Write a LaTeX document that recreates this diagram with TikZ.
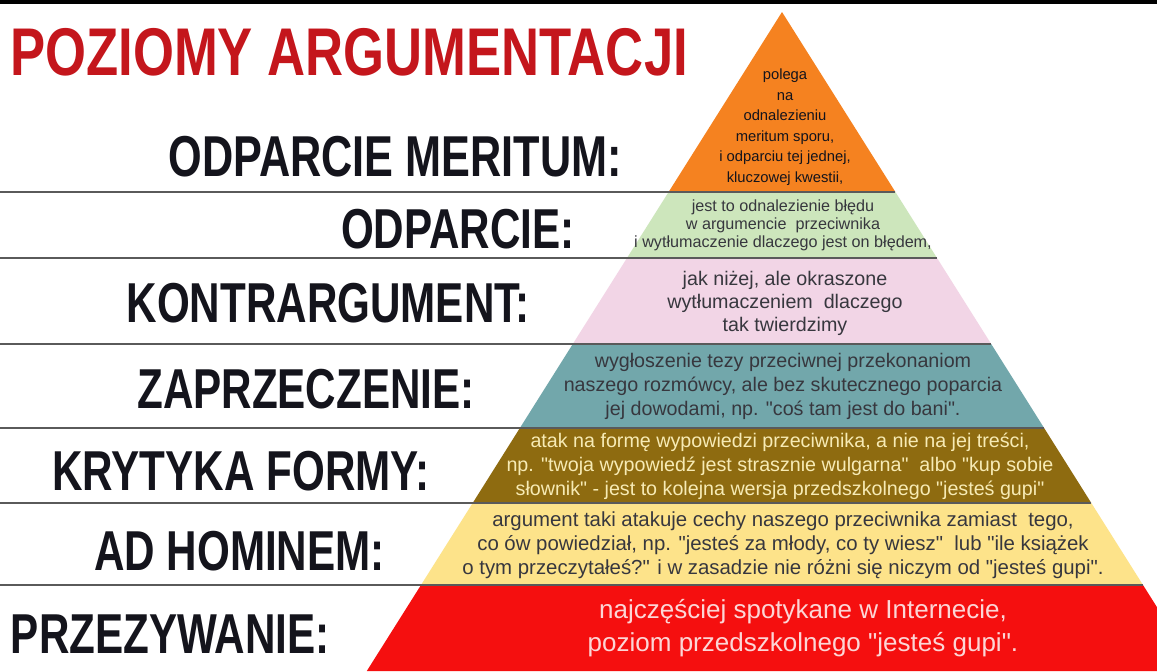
\documentclass[tikz,border=0pt]{standalone}
\usepackage{fontspec}
\setmainfont{Liberation Sans}
\newfontfamily\stencilfont[FakeStretch=0.75]{Liberation Sans}
\newfontfamily\titlefont[FakeStretch=0.78]{Liberation Sans}
\usepackage{xcolor}
\usepackage{tikz}

\definecolor{merit}{HTML}{F58220}
\definecolor{odpar}{HTML}{CDE6BC}
\definecolor{kontr}{HTML}{F2D5E6}
\definecolor{zaprz}{HTML}{72A7AB}
\definecolor{kryt}{HTML}{8E6B10}
\definecolor{adhom}{HTML}{FDE38A}
\definecolor{przez}{HTML}{F50F0F}
\definecolor{titlered}{HTML}{C4161C}
\definecolor{labink}{HTML}{14141C}
\definecolor{sepgray}{HTML}{5A5A5A}
\definecolor{cream}{HTML}{F7EBB5}
\definecolor{pinkish}{HTML}{FCD6D6}

\newcommand{\qt}{\textquotedbl}

\begin{document}
\begin{tikzpicture}[
    x=0.025cm, y=-0.025cm,
    every node/.style={inner sep=0pt},
    layer/.style={fill=#1},
    sep/.style={draw=sepgray, line width=1.6pt},
    lab/.style={anchor=base east, text=labink, font=\stencilfont\bfseries\fontsize{40}{40}\selectfont},
    txt/.style={align=center, text=#1}
]
\useasboundingbox (0,0) rectangle (1157,671);
\clip (0,0) rectangle (1157,671);
\fill[white] (0,0) rectangle (1157,671);
\fill[black] (0,0) rectangle (1157,4);

% pyramid corners
\coordinate (top) at (782,12);
\coordinate (L1) at (668.6,192); \coordinate (R1) at (895.4,192);
\coordinate (L2) at (627,258);   \coordinate (R2) at (937,258);
\coordinate (L3) at (572.8,344); \coordinate (R3) at (991.2,344);
\coordinate (L4) at (519.9,428); \coordinate (R4) at (1044.1,428);
\coordinate (L5) at (472.7,503); \coordinate (R5) at (1091.3,503);
\coordinate (L6) at (421,585);   \coordinate (R6) at (1143,585);
\coordinate (L7) at (366.8,671); \coordinate (R7) at (1197.2,671);

\fill[layer=merit] (top) -- (L1) -- (R1) -- cycle;
\fill[layer=odpar] (L1) -- (L2) -- (R2) -- (R1) -- cycle;
\fill[layer=kontr] (L2) -- (L3) -- (R3) -- (R2) -- cycle;
\fill[layer=zaprz] (L3) -- (L4) -- (R4) -- (R3) -- cycle;
\fill[layer=kryt]  (L4) -- (L5) -- (R5) -- (R4) -- cycle;
\fill[layer=adhom] (L5) -- (L6) -- (R6) -- (R5) -- cycle;
\fill[layer=przez] (L6) -- (L7) -- (R7) -- (R6) -- cycle;

% separators
\coordinate (s1) at (0,192);
\coordinate (s2) at (0,258);
\coordinate (s3) at (0,344);
\coordinate (s4) at (0,428);
\coordinate (s5) at (0,503);
\coordinate (s6) at (0,585);
\draw[sep] (s1) -- (R1);
\draw[sep] (s2) -- (R2);
\draw[sep] (s3) -- (R3);
\draw[sep] (s4) -- (R4);
\draw[sep] (s5) -- (R5);
\draw[sep] (s6) -- (R6);

% title and labels
\node[anchor=base west, text=titlered, font=\titlefont\bfseries\fontsize{48}{48}\selectfont] (title) at (10,75) {POZIOMY ARGUMENTACJI};
\node[lab, font=\stencilfont\bfseries\fontsize{41}{41}\selectfont] (lmer) at (622,176) {ODPARCIE MERITUM:};
\node[lab] (lodp) at (575,248) {ODPARCIE:};
\node[lab] (lkontr) at (530,322) {KONTRARGUMENT:};
\node[lab] (lzaprz) at (475,408) {ZAPRZECZENIE:};
\node[lab] (lkryt) at (430,490) {KRYTYKA FORMY:};
\node[lab] (ladhom) at (385,570) {AD HOMINEM:};
\node[lab] (lprzez) at (330,653) {PRZEZYWANIE:};

% descriptions
\node[txt=labink, font=\fontsize{10.5}{14.6}\selectfont] (mer) at (785,127)
  {polega\\na\\odnalezieniu\\meritum sporu,\\i odparciu tej jednej,\\kluczowej kwestii,};
\node[txt=labink!85, font=\fontsize{11.5}{12.8}\selectfont] (odp) at (783,225)
  {jest to odnalezienie błędu\\w argumencie~ przeciwnika\\i wytłumaczenie dlaczego jest on błędem,};
\node[txt=labink!85, font=\fontsize{14}{16.4}\selectfont] (kontr) at (785,303)
  {jak niżej, ale okraszone\\wytłumaczeniem~ dlaczego\\tak twierdzimy};
\node[txt=labink!85, font=\fontsize{14}{17}\selectfont] (zaprz) at (783,386)
  {wygłoszenie tezy przeciwnej przekonaniom\\naszego rozmówcy, ale bez skutecznego poparcia\\jej dowodami, np. \qt coś tam jest do bani\qt.};
\node[txt=cream, font=\fontsize{14}{17}\selectfont] (kryt) at (780,466)
  {atak na formę wypowiedzi przeciwnika, a nie na jej treści,\\np. \qt twoja wypowiedź jest strasznie wulgarna\qt~ albo \qt kup sobie\\słownik\qt{} - jest to kolejna wersja przedszkolnego \qt jesteś gupi\qt};
\node[txt=labink!85, font=\fontsize{14.5}{17}\selectfont] (adhom) at (783,545)
  {argument taki atakuje cechy naszego przeciwnika zamiast~ tego,\\co ów powiedział, np. \qt jesteś za młody, co ty wiesz\qt~ lub \qt ile książek\\o tym przeczytałeś?\qt{} i w zasadzie nie różni się niczym od \qt jesteś gupi\qt.};
\node[txt=pinkish, font=\fontsize{18.5}{24}\selectfont] (przez) at (803,628)
  {najczęściej spotykane w Internecie,\\poziom przedszkolnego \qt jesteś gupi\qt.};
\end{tikzpicture}
\end{document}
